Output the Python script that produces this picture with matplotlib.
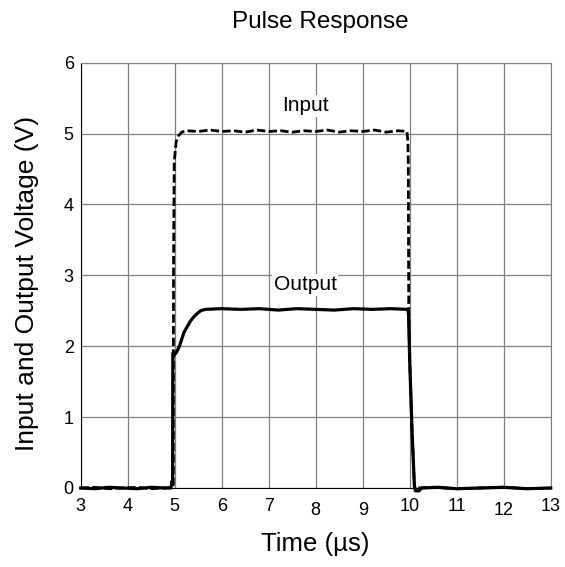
import matplotlib
matplotlib.use("Agg")
import matplotlib.pyplot as plt
import matplotlib.transforms as mtransforms

plt.rcParams['font.family'] = ['Liberation Sans', 'DejaVu Sans']

# Values (time in us, voltage in V)
input_t = [3.0, 3.3, 3.6, 3.9, 4.2, 4.5, 4.8, 4.95, 4.97, 4.975, 4.99, 5.03, 5.08,
           5.15, 5.25, 5.5, 5.75, 6.0, 6.25, 6.5, 6.75, 7.0, 7.25, 7.5, 7.75,
           8.0, 8.25, 8.5, 8.75, 9.0, 9.25, 9.5, 9.75, 9.94, 9.96, 9.97, 9.98,
           10.0, 10.05, 10.1, 10.13, 10.2, 10.5, 11.0, 11.5, 12.0, 12.5, 13.0]
input_v = [0.0, 0.01, -0.01, 0.0, 0.01, -0.01, 0.0, 0.01, 0.05, 3.1, 4.6, 4.88, 4.97,
           5.02, 5.04, 5.03, 5.05, 5.03, 5.04, 5.02, 5.05, 5.03, 5.04, 5.02, 5.04,
           5.03, 5.05, 5.02, 5.04, 5.03, 5.05, 5.02, 5.04, 5.03, 4.9, 4.6, 2.5,
           1.8, 0.8, 0.02, -0.03, 0.0, 0.01, -0.01, 0.0, 0.01, -0.01, 0.0]

output_t = [3.0, 3.3, 3.6, 3.9, 4.2, 4.5, 4.8, 4.92, 4.945, 4.955, 4.96, 4.97,
            5.0, 5.05, 5.1, 5.15, 5.2, 5.27, 5.33, 5.4, 5.46, 5.55, 5.65, 6.0,
            6.4, 6.8, 7.2, 7.6, 8.0, 8.4, 8.8, 9.2, 9.6, 9.96, 9.975, 10.0,
            10.05, 10.1, 10.12, 10.2, 10.25, 10.6, 11.0, 11.5, 12.0, 12.5, 13.0]
output_v = [0.0, -0.01, 0.01, 0.0, -0.01, 0.01, 0.0, 0.0, 0.1, 0.05, 1.9, 1.91,
            1.88, 1.93, 2.0, 2.1, 2.2, 2.28, 2.35, 2.41, 2.45, 2.5, 2.52, 2.53,
            2.52, 2.53, 2.51, 2.53, 2.52, 2.51, 2.53, 2.52, 2.53, 2.52, 2.45, 1.8,
            0.8, 0.03, -0.04, -0.04, 0.0, 0.01, -0.01, 0.0, 0.01, -0.01, 0.0]

x_ticks = [3, 4, 5, 6, 7, 8, 9, 10, 11, 12, 13]
y_ticks = [0, 1, 2, 3, 4, 5, 6]

fig = plt.figure(figsize=(5.65, 5.67), dpi=100)
ax = fig.add_axes([80.7 / 565, 1 - 488 / 567, 470 / 565, 425.3 / 567])

ax.plot(input_t, input_v, color='black', lw=2.0, linestyle=(0, (3, 1.2)), clip_on=False, zorder=3)
ax.plot(output_t, output_v, color='black', lw=2.3, clip_on=False, zorder=4)

ax.set_xlim(3, 13)
ax.set_ylim(0, 6)
ax.set_xticks(x_ticks)
ax.set_yticks(y_ticks)
ax.tick_params(length=0, labelsize=13)
ax.tick_params(axis='x', pad=7)
ax.tick_params(axis='y', pad=5)
ax.grid(True, color='#808080', lw=0.9)
ax.set_axisbelow(True)
for side in ['top', 'right']:
    ax.spines[side].set_color('#808080')
for side in ['left', 'bottom']:
    ax.spines[side].set_color('black')

# a few of the x labels sit slightly lower in the original
for lbl in ax.get_xticklabels():
    if lbl.get_text() in ('8', '9', '12'):
        lbl.set_transform(lbl.get_transform() +
                          mtransforms.ScaledTranslation(0, -3 / 72, fig.dpi_scale_trans))

ax.text(7.78, 5.39, 'Input', fontsize=15, ha='center', va='center',
        bbox=dict(facecolor='white', edgecolor='none', pad=1), zorder=5)
ax.text(7.78, 2.87, 'Output', fontsize=15, ha='center', va='center',
        bbox=dict(facecolor='white', edgecolor='none', pad=1), zorder=5)

ax.set_title('Pulse Response', fontsize=17.5, pad=24.8, x=0.509)
ax.set_xlabel('Time (\u00b5s)', fontsize=18.5)
ax.set_ylabel('Input and Output Voltage (V)', fontsize=19)
ax.xaxis.set_label_coords(0.5, -0.103)
ax.yaxis.set_label_coords(-0.0877, 0.481)

fig.savefig('out.png', dpi=100)
